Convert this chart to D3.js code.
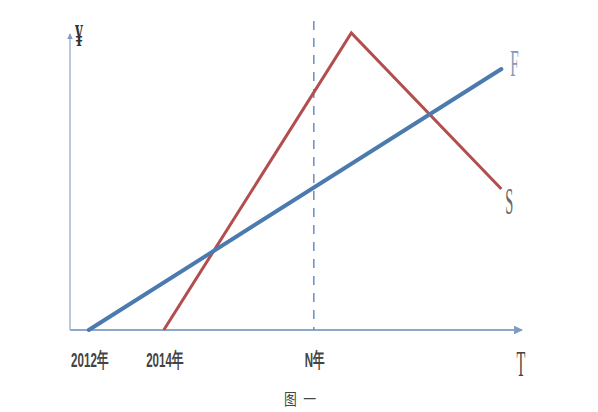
<!DOCTYPE html>
<html>
<head>
<meta charset="utf-8">
<script src="https://cdn.jsdelivr.net/npm/d3@7"></script>
<style>
  html, body { margin: 0; padding: 0; background: #fff; }
  svg { display: block; }
</style>
</head>
<body>
<div class="chart"></div>
<script>
// time in years after 2012, value in arbitrary units
const fTime = [0, 11];
const fValue = [0, 87];
const sTime = [2, 7, 11];
const sValue = [0, 99, 47];
const tickTimes = [0, 2, 6];
const tickLabels = ["2012年", "2014年", "N年"];
const nYear = 6;

const width = 598, height = 412;
const xScale = d3.scaleLinear().domain([-0.5, 11.55]).range([70, 522]);
const yScale = d3.scaleLinear().domain([0, 105]).range([330, 15]);

const svg = d3.select(".chart").append("svg")
    .attr("width", width)
    .attr("height", height);

const defs = svg.append("defs");
defs.append("marker")
    .attr("id", "arrow")
    .attr("viewBox", "0 0 10 10")
    .attr("refX", 9).attr("refY", 5)
    .attr("markerWidth", 4).attr("markerHeight", 4)
    .attr("orient", "auto")
  .append("path")
    .attr("d", "M0,0L10,5L0,10z")
    .attr("fill", "#7e9cc2");

// axes
svg.append("line")
    .attr("x1", xScale(-0.5)).attr("y1", yScale(0))
    .attr("x2", xScale(11.55)).attr("y2", yScale(0))
    .attr("stroke", "#8ea8c8").attr("stroke-width", 2.2)
    .attr("marker-end", "url(#arrow)");
svg.append("line")
    .attr("x1", xScale(-0.5)).attr("y1", yScale(0))
    .attr("x2", xScale(-0.5)).attr("y2", yScale(98.7))
    .attr("stroke", "#9ab2cf").attr("stroke-width", 1.4)
    .attr("marker-end", "url(#arrow)");

// N year dashed line
svg.append("line")
    .attr("x1", xScale(nYear)).attr("y1", yScale(103))
    .attr("x2", xScale(nYear)).attr("y2", yScale(0))
    .attr("stroke", "#5b87bf").attr("stroke-width", 1.4)
    .attr("stroke-dasharray", "9,8");

const line = d3.line().x(d => xScale(d[0])).y(d => yScale(d[1]));

svg.append("path")
    .attr("d", line(d3.zip(sTime, sValue)))
    .attr("fill", "none")
    .attr("stroke", "#b24e4e").attr("stroke-width", 3)
    .attr("stroke-linejoin", "miter");

svg.append("path")
    .attr("d", line(d3.zip(fTime, fValue)))
    .attr("fill", "none")
    .attr("stroke", "#4a7aae").attr("stroke-width", 4)
    .attr("stroke-linecap", "round");

// narrow text helper
function narrowText(x, y, str, opts) {
    const g = svg.append("g")
        .attr("transform", `translate(${x},${y}) scale(${opts.sx},1)`);
    g.append("text")
        .attr("text-anchor", opts.anchor || "middle")
        .attr("font-family", opts.family)
        .attr("font-weight", opts.weight || "normal")
        .attr("font-size", opts.size)
        .attr("fill", opts.fill)
        .text(str);
}

tickTimes.forEach((t, i) => {
    narrowText(xScale(t) + 1, 367, tickLabels[i], {
        sx: 0.55, size: 21, weight: "bold",
        family: "'Liberation Sans', Arial, sans-serif", fill: "#444"
    });
});

narrowText(xScale(fTime[1]) + 13, 76, "F", {
    sx: 0.4, size: 38, family: "'Liberation Serif', serif", fill: "#7f9bbb"
});
narrowText(xScale(sTime[2]) + 8, 214, "S", {
    sx: 0.38, size: 38, family: "'Liberation Serif', serif", fill: "#666"
});
narrowText(521, 376, "T", {
    sx: 0.4, size: 36, family: "'Liberation Serif', serif", fill: "#444"
});
narrowText(79, 46, "¥", {
    sx: 0.5, size: 32, weight: "bold", family: "'Liberation Serif', serif", fill: "#333"
});
narrowText(300, 405, "图\u2002一", {
    sx: 0.8, size: 16, family: "'Noto Sans CJK SC', sans-serif", fill: "#444"
});
</script>
</body>
</html>
